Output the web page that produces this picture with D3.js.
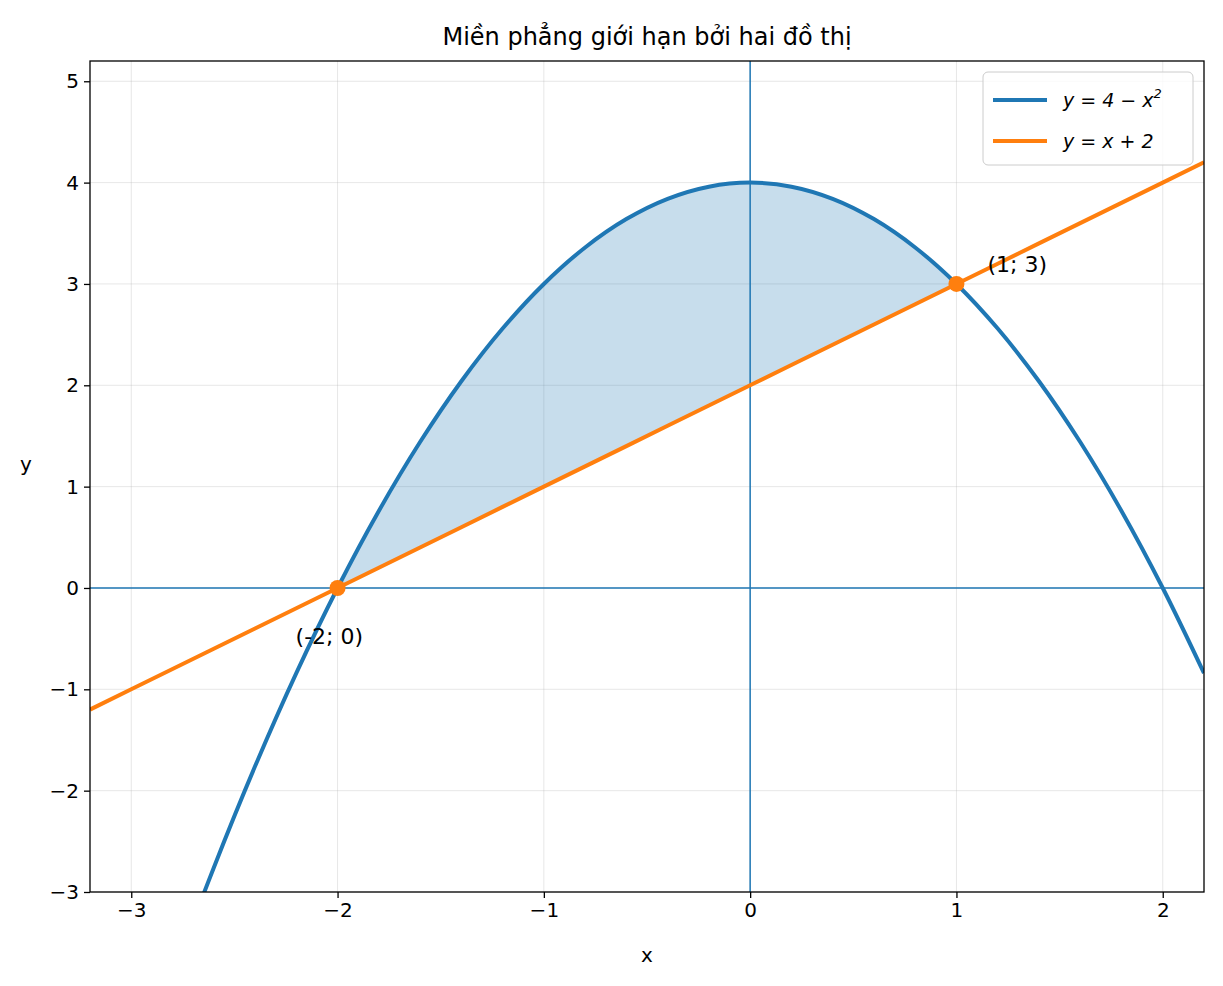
<!DOCTYPE html>
<html><head><meta charset="utf-8">
<script src="https://cdn.jsdelivr.net/npm/d3@7"></script>
<style>body{margin:0;background:#fff}</style>
</head><body>
<svg id="c" width="1223" height="986"></svg>
<script>
// sample points
var xs=[-3.2,-3.0,-2.8,-2.6,-2.4,-2.2,-2.0,-1.8,-1.6,-1.4,-1.2,-1.0,-0.8,-0.6,-0.4,-0.2,0,0.2,0.4,0.6,0.8,1.0,1.2,1.4,1.6,1.8,2.0,2.2];
var parabolaY=[-6.24,-5,-3.84,-2.76,-1.76,-0.84,0,0.76,1.44,2.04,2.56,3,3.36,3.64,3.84,3.96,4,3.96,3.84,3.64,3.36,3,2.56,2.04,1.44,0.76,0,-0.84];
var lineY=[-1.2,-1.0,-0.8,-0.6,-0.4,-0.2,0,0.2,0.4,0.6,0.8,1.0,1.2,1.4,1.6,1.8,2.0,2.2,2.4,2.6,2.8,3.0,3.2,3.4,3.6,3.8,4.0,4.2];
var xTicks=[-3,-2,-1,0,1,2];
var yTicks=[-3,-2,-1,0,1,2,3,4,5];
var points=[{x:-2,y:0,label:"(-2; 0)",dx:-42,dy:56},{x:1,y:3,label:"(1; 3)",dx:31,dy:-12}];

var L=90,R=1204,T=61,B=892;
var svg=d3.select("#c");
var x=d3.scaleLinear().domain([-3.2,2.2]).range([L,R]);
var y=d3.scaleLinear().domain([-3,5.2]).range([B,T]);
var fmt=function(d){return d<0?"\u2212"+(-d):""+d};

svg.append("defs").append("clipPath").attr("id","clip").append("rect")
  .attr("x",L).attr("y",T).attr("width",R-L).attr("height",B-T);

// grid
svg.append("g").selectAll("line").data(xTicks).enter().append("line")
  .attr("x1",d=>x(d)).attr("x2",d=>x(d)).attr("y1",T).attr("y2",B)
  .attr("stroke","#b0b0b0").attr("stroke-opacity",0.3);
svg.append("g").selectAll("line").data(yTicks).enter().append("line")
  .attr("y1",d=>y(d)).attr("y2",d=>y(d)).attr("x1",L).attr("x2",R)
  .attr("stroke","#b0b0b0").attr("stroke-opacity",0.3);

var plot=svg.append("g").attr("clip-path","url(#clip)");

// fill between
var idx=xs.map((d,i)=>i).filter(i=>xs[i]>=-2-1e-9&&xs[i]<=1+1e-9);
plot.append("path").datum(idx)
  .attr("d",d3.area().x(i=>x(xs[i])).y0(i=>y(lineY[i])).y1(i=>y(parabolaY[i])).curve(d3.curveCatmullRom))
  .attr("fill","#1f77b4").attr("fill-opacity",0.25);

// axes lines x=0,y=0
plot.append("line").attr("x1",x(0)).attr("x2",x(0)).attr("y1",T).attr("y2",B).attr("stroke","#1f77b4").attr("stroke-width",1.5);
plot.append("line").attr("y1",y(0)).attr("y2",y(0)).attr("x1",L).attr("x2",R).attr("stroke","#1f77b4").attr("stroke-width",1.5);

plot.append("path").datum(xs.map((d,i)=>i))
  .attr("d",d3.line().x(i=>x(xs[i])).y(i=>y(parabolaY[i])).curve(d3.curveCatmullRom))
  .attr("fill","none").attr("stroke","#1f77b4").attr("stroke-width",4);
plot.append("path").datum(xs.map((d,i)=>i))
  .attr("d",d3.line().x(i=>x(xs[i])).y(i=>y(lineY[i])))
  .attr("fill","none").attr("stroke","#ff7f0e").attr("stroke-width",4);

svg.selectAll("circle.p").data(points).enter().append("circle")
  .attr("cx",d=>x(d.x)).attr("cy",d=>y(d.y)).attr("r",8).attr("fill","#ff7f0e");
svg.selectAll("text.p").data(points).enter().append("text")
  .attr("x",d=>x(d.x)+d.dx).attr("y",d=>y(d.y)+d.dy)
  .attr("font-family","DejaVu Sans").attr("font-size",22).text(d=>d.label);

// frame and ticks
svg.append("rect").attr("x",L).attr("y",T).attr("width",R-L).attr("height",B-T)
  .attr("fill","none").attr("stroke","#000").attr("stroke-width",1.3);
var xa=svg.append("g").attr("transform","translate(0,"+B+")")
  .call(d3.axisBottom(x).tickValues(xTicks).tickFormat(fmt).tickSize(6).tickPadding(5));
var ya=svg.append("g").attr("transform","translate("+L+",0)")
  .call(d3.axisLeft(y).tickValues(yTicks).tickFormat(fmt).tickSize(6).tickPadding(5));
[xa,ya].forEach(g=>{g.select(".domain").remove();
  g.selectAll("text").attr("font-family","DejaVu Sans").attr("font-size",20).attr("fill","#000");
  g.selectAll("line").attr("stroke","#000").attr("stroke-width",1.3);});

svg.append("text").attr("x",(L+R)/2).attr("y",45).attr("text-anchor","middle")
  .attr("font-family","DejaVu Sans").attr("font-size",24).text("Miền phẳng giới hạn bởi hai đồ thị");
svg.append("text").attr("x",(L+R)/2).attr("y",962).attr("text-anchor","middle")
  .attr("font-family","DejaVu Sans").attr("font-size",20).text("x");
svg.append("text").attr("x",26).attr("y",471).attr("text-anchor","middle")
  .attr("font-family","DejaVu Sans").attr("font-size",20).text("y");

// legend
var lg=svg.append("g");
lg.append("rect").attr("x",983).attr("y",72).attr("width",210).attr("height",93).attr("rx",5)
  .attr("fill","#fff").attr("fill-opacity",0.8).attr("stroke","#ccc");
var items=[{c:"#1f77b4",y:100,t:"y = 4 − x",sup:"2"},{c:"#ff7f0e",y:141,t:"y = x + 2"}];
items.forEach(it=>{
  lg.append("line").attr("x1",993).attr("x2",1047).attr("y1",it.y).attr("y2",it.y).attr("stroke",it.c).attr("stroke-width",4);
  var t=lg.append("text").attr("x",1063).attr("y",it.y+7).attr("font-family","DejaVu Sans").attr("font-style","italic").attr("font-size",19).text(it.t);
  if(it.sup) t.append("tspan").attr("dy",-9).attr("font-size",13).text(it.sup);
});
</script>
</body></html>
